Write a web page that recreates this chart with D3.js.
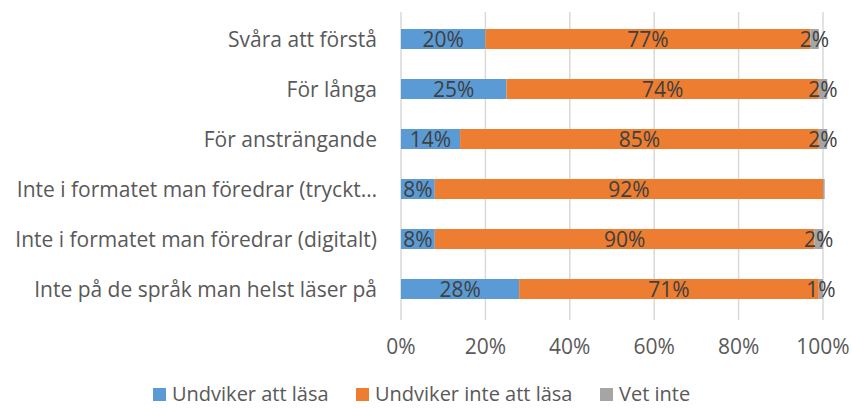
<!DOCTYPE html>
<html>
<head>
<meta charset="utf-8">
<script src="https://cdn.jsdelivr.net/npm/d3@7"></script>
<style>
  html, body { margin: 0; padding: 0; background: #fff; }
  svg { display: block; font-family: "Open Sans", sans-serif; }
</style>
</head>
<body>
<svg id="chart" width="852" height="408"></svg>
<script>
const categories = [
  "Svåra att förstå",
  "För långa",
  "För ansträngande",
  "Inte i formatet man föredrar (tryckt…",
  "Inte i formatet man föredrar (digitalt)",
  "Inte på de språk man helst läser på"
];
const seriesNames = ["Undviker att läsa", "Undviker inte att läsa", "Vet inte"];
const avoid = [20, 25, 14, 8, 8, 28];
const notAvoid = [77, 74, 85, 92, 90, 71];
const dontKnow = [2, 2, 2, 0.4, 2, 1];
const ticks = [0, 20, 40, 60, 80, 100];
const colors = ["#5B9BD5", "#ED7D31", "#A5A5A5"];

const fontSize = "21px";
const svg = d3.select("#chart");
const margin = { top: 14, right: 29, bottom: 94, left: 401 };
const width = 852, height = 408;
const innerW = width - margin.left - margin.right;
const innerH = height - margin.top - margin.bottom;

const rows = categories.map((c, i) => ({ cat: c, values: [avoid[i], notAvoid[i], dontKnow[i]] }));

const x = d3.scaleLinear().domain([0, 100]).range([0, innerW]);
const y = d3.scaleBand().domain(categories).range([0, innerH]).paddingInner(0.6).paddingOuter(0.3);

const g = svg.append("g").attr("transform", `translate(${margin.left},${margin.top})`);

// Grid lines.
g.append("g").selectAll("line").data(ticks).join("line")
  .attr("x1", d => x(d)).attr("x2", d => x(d))
  .attr("y1", -2).attr("y2", innerH + 6)
  .attr("stroke", "#D9D9D9").attr("stroke-width", 1.5);

// Bars.
const stacked = rows.map(r => {
  let acc = 0;
  return r.values.map((v, k) => {
    const seg = { cat: r.cat, k, v, x0: acc, x1: acc + v };
    acc += v;
    return seg;
  });
});

const segs = stacked.flat();
g.append("g").selectAll("rect").data(segs).join("rect")
  .attr("x", d => x(d.x0))
  .attr("y", d => y(d.cat))
  .attr("width", d => x(d.x1) - x(d.x0))
  .attr("height", y.bandwidth())
  .attr("fill", d => colors[d.k]);

g.append("g").selectAll("text").data(segs.filter(d => Math.round(d.v) > 0)).join("text")
  .attr("x", d => x((d.x0 + d.x1) / 2))
  .attr("y", d => y(d.cat) + y.bandwidth() / 2)
  .attr("dy", "0.36em")
  .attr("text-anchor", "middle")
  .attr("font-size", fontSize)
  .attr("fill", "#404040")
  .text(d => Math.round(d.v) + "%");

// Category labels.
g.append("g").selectAll("text").data(categories).join("text")
  .attr("x", -24)
  .attr("y", d => y(d) + y.bandwidth() / 2)
  .attr("dy", "0.36em")
  .attr("text-anchor", "end")
  .attr("font-size", fontSize)
  .attr("fill", "#595959")
  .text(d => d);

// X axis labels.
g.append("g").selectAll("text").data(ticks).join("text")
  .attr("x", d => x(d))
  .attr("y", 354 - margin.top)
  .attr("text-anchor", "middle")
  .attr("font-size", fontSize)
  .attr("fill", "#595959")
  .text(d => d + "%");

// Legend.
const legendX = [153, 356, 600];
const legend = svg.append("g").attr("transform", "translate(0, 394)");
seriesNames.forEach((name, i) => {
  legend.append("rect")
    .attr("x", legendX[i]).attr("y", -6)
    .attr("width", 13).attr("height", 13)
    .attr("fill", colors[i]);
  legend.append("text")
    .attr("x", legendX[i] + 19).attr("y", 0)
    .attr("dy", "0.36em")
    .attr("font-size", "20px")
    .attr("fill", "#595959")
    .text(name);
});
</script>
</body>
</html>
